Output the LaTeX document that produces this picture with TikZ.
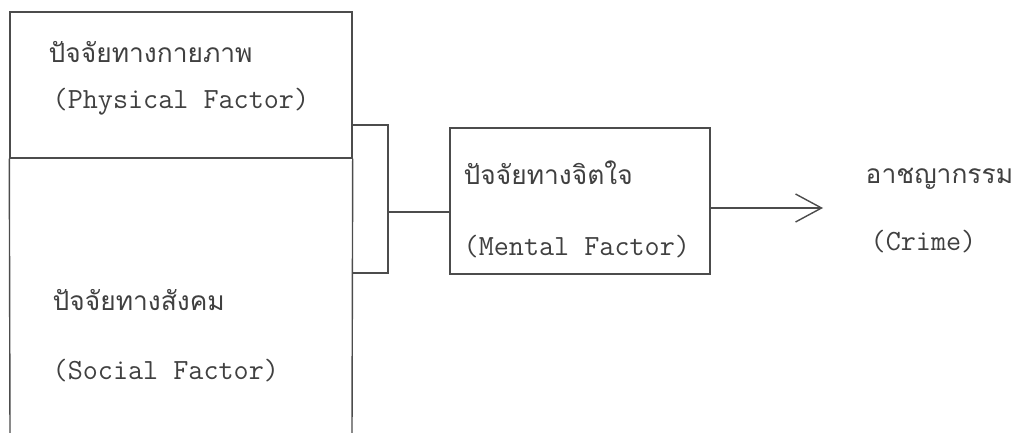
\documentclass[tikz,border=0pt]{standalone}
\usepackage{fontspec}
\newfontfamily\thaifont[Script=Thai]{Loma}
\usetikzlibrary{arrows.meta}
\usetikzlibrary{positioning}

\begin{document}
\begin{tikzpicture}[x=0.03cm,y=-0.03cm,line width=1.2pt]
	\tikzstyle{every node}=[inner sep=0pt, text=black!75]
	\tikzstyle{eng}=[anchor=west, font=\ttfamily\fontsize{25}{29}\selectfont]
	\tikzstyle{thai}=[anchor=west, font=\thaifont\fontsize{22.5}{27}\selectfont]
	\tikzstyle{line}=[draw=black!70]
	\tikzstyle{arr}=[line, -{Straight Barb[length=0.78cm, width=0.84cm, line width=1.2pt]}]
	\useasboundingbox (0,0) rectangle (1017,433);

	% left column: physical above, social below (open at the bottom)
	\node[line, rectangle, minimum width=342*0.03cm, minimum height=146*0.03cm] (phys) at (181,85) {};
	\coordinate (socl) at (10,433);
	\coordinate (socr) at (352,433);
	\draw[line] (phys.south west) -- (socl);
	\draw[line] (phys.south east) -- (socr);

	\node[thai] (physth) at (48,52) {ปัจจัยทางกายภาพ};
	\node[eng]  (physen) at (52,102) {(Physical Factor)};
	\node[thai] (soclth) at (52,300) {ปัจจัยทางสังคม};
	\node[eng]  (soclen) at (52,371) {(Social Factor)};

	% middle box
	\node[line, rectangle, minimum width=260*0.03cm, minimum height=146*0.03cm] (mental) at (580,201) {};
	\node[thai] (mentth) at (463,173) {ปัจจัยทางจิตใจ};
	\node[eng]  (menten) at (463,247) {(Mental Factor)};

	% result
	\node[thai] (crimeth) at (865,179) {อาชญากรรม};
	\node[eng]  (crimeen) at (870,242) {(Crime)};
	\coordinate (tip) at (823,208);

	% bracket joining the two left boxes
	\coordinate (brk) at (388,212);
	\draw[line] (phys.east |- 0,125) -| (brk |- 0,273) -- (socr |- 0,273);
	\draw[line] (brk) -- (mental.west |- brk);
	\draw[arr] (mental.east |- tip) -- (tip);
\end{tikzpicture}
\end{document}
